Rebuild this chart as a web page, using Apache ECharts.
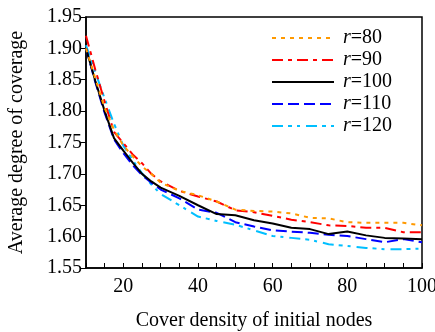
<!DOCTYPE html>
<html>
<head>
<meta charset="utf-8">
<script src="https://cdn.jsdelivr.net/npm/echarts@6/dist/echarts.min.js"></script>
<style>
  html, body { margin: 0; padding: 0; background: #fff; }
  #chart { width: 435px; height: 332px; }
</style>
</head>
<body>
<div id="chart"></div>
<script>
const xValues = [10, 12.5, 15, 17.5, 20, 22.5, 25, 27.5, 30, 35, 40, 45, 50, 55, 60, 65, 70, 75, 80, 85, 90, 95, 100]
const r80 = [1.900, 1.852, 1.805, 1.770, 1.745, 1.728, 1.712, 1.700, 1.686, 1.673, 1.666, 1.656, 1.643, 1.641, 1.640, 1.637, 1.630, 1.629, 1.623, 1.622, 1.622, 1.622, 1.618]
const r90 = [1.920, 1.866, 1.815, 1.767, 1.749, 1.731, 1.717, 1.700, 1.688, 1.673, 1.664, 1.656, 1.642, 1.639, 1.633, 1.627, 1.623, 1.618, 1.617, 1.614, 1.614, 1.607, 1.607]
const r100 = [1.900, 1.848, 1.800, 1.757, 1.737, 1.718, 1.700, 1.688, 1.678, 1.665, 1.650, 1.636, 1.634, 1.626, 1.621, 1.614, 1.612, 1.604, 1.608, 1.602, 1.598, 1.597, 1.596]
const r110 = [1.900, 1.846, 1.797, 1.755, 1.733, 1.714, 1.698, 1.686, 1.675, 1.661, 1.643, 1.638, 1.623, 1.616, 1.610, 1.608, 1.606, 1.603, 1.601, 1.596, 1.591, 1.596, 1.591]
const r120 = [1.905, 1.862, 1.820, 1.780, 1.745, 1.722, 1.701, 1.683, 1.668, 1.650, 1.632, 1.625, 1.619, 1.610, 1.601, 1.598, 1.595, 1.588, 1.585, 1.582, 1.580, 1.580, 1.581]
const seriesNames = ["80", "90", "100", "110", "120"]

const font = "Liberation Serif"

function pairs(ys) {
  return xValues.map((x, i) => [x, ys[i]])
}

const styles = [
  { color: "#FF9900", dash: [4, 5] },
  { color: "#FF0000", dash: [11, 5, 4, 5] },
  { color: "#000000", dash: "solid" },
  { color: "#0000FF", dash: [11, 5] },
  { color: "#00BFFF", dash: [11, 5, 4, 5, 3, 6] },
]
const allData = [r80, r90, r100, r110, r120]

const chart = echarts.init(document.getElementById("chart"))

chart.setOption({
  animation: false,
  backgroundColor: "#fff",
  grid: {
    left: 86,
    right: 13,
    top: 17,
    bottom: 64,
    outerBoundsMode: "none",
    show: true,
    borderColor: "#000",
    borderWidth: 1.5,
  },
  legend: {
    orient: "vertical",
    left: 271,
    top: 28,
    padding: 0,
    itemWidth: 62,
    itemHeight: 20,
    itemGap: 2,
    itemStyle: { opacity: 0 },
    data: seriesNames,
    formatter: (name) => "{i|r}{n|=" + name + "}",
    textStyle: {
      fontFamily: font,
      fontSize: 20,
      color: "#000",
      rich: {
        i: { fontFamily: font, fontSize: 20, fontStyle: "italic", padding: [0, 0, 0, 4] },
        n: { fontFamily: font, fontSize: 20 },
      },
    },
  },
  xAxis: {
    type: "value",
    min: 10,
    max: 100,
    interval: 5,
    name: "Cover density of initial nodes",
    nameLocation: "middle",
    nameGap: 43,
    nameTextStyle: { fontFamily: font, fontSize: 20, color: "#000" },
    axisLine: { lineStyle: { color: "#000", width: 1.5 } },
    axisTick: { inside: true, length: 5, lineStyle: { color: "#000", width: 1 } },
    axisLabel: {
      margin: 9,
      fontFamily: font,
      fontSize: 20,
      color: "#000",
      formatter: (v) => (v % 20 === 0 ? String(v) : ""),
    },
    splitLine: { show: false },
  },
  yAxis: {
    type: "value",
    min: 1.55,
    max: 1.95,
    interval: 0.05,
    name: "Average degree of coverage",
    nameLocation: "middle",
    nameGap: 59,
    nameTextStyle: { fontFamily: font, fontSize: 20, color: "#000" },
    axisLine: { lineStyle: { color: "#000", width: 1.5 } },
    axisTick: { inside: false, length: 6, lineStyle: { color: "#000", width: 1 } },
    axisLabel: {
      margin: 4,
      fontFamily: font,
      fontSize: 20,
      color: "#000",
      formatter: (v) => v.toFixed(2),
    },
    splitLine: { show: false },
  },
  series: seriesNames.map((name, i) => ({
    type: "line",
    name: name,
    data: pairs(allData[i]),
    showSymbol: false,
    symbol: "none",
    clip: true,
    lineStyle: { color: styles[i].color, width: 2, type: styles[i].dash },
    itemStyle: { color: styles[i].color },
    z: 10 - i,
  })),
})
</script>
</body>
</html>
